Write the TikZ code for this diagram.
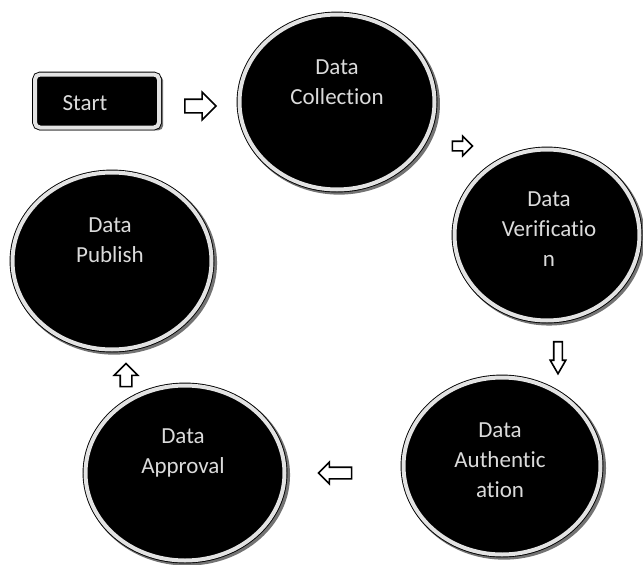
\documentclass[tikz,border=0pt]{standalone}
\usepackage{fontspec}
\setmainfont[Ligatures={NoCommon,NoContextual},Contextuals=NoAlternate]{Carlito}
\usetikzlibrary{shapes.geometric,shapes.arrows,shadows}

\tikzset{
  ring/.style={fill=black, draw=black, double=gray!22, double distance=4pt, line width=0.9pt,
    drop shadow={shadow xshift=2pt, shadow yshift=-2pt, shadow scale=1.035, opacity=0.55, fill=black}},
  bubble/.style={ring, ellipse, inner sep=0pt},
  startbox/.style={ring, rectangle, rounded corners=5pt, inner sep=0pt},
  bubtext/.style={text=gray!28, align=center, font=\fontsize{23}{30}\selectfont},
  blockarr/.style={single arrow, draw=black, fill=white, line width=1.6pt, inner sep=#1}
}

\begin{document}
\begin{tikzpicture}[x=1pt,y=-1pt]
\useasboundingbox[fill=white] (0,0) rectangle (643,565);

% the six steps
\node[startbox, minimum width=124pt, minimum height=53pt] (start) at (97,101) {};
\node[bubtext] (start-t) at (85,103) {Start};

\node[bubble, minimum width=195pt, minimum height=175pt] (coll) at (337,102) {};
\node[bubtext] (coll-t) at (337,82) {Data\\Collection};

\node[bubble, minimum width=185pt, minimum height=171pt] (verif) at (547,235) {};
\node[bubtext] (verif-t) at (549,229) {Data\\Verificatio\\n};

\node[bubble, minimum width=197pt, minimum height=177pt] (auth) at (502,466) {};
\node[bubtext] (auth-t) at (500,460) {Data\\Authentic\\ation};

\node[bubble, minimum width=199pt, minimum height=175pt] (appr) at (185,473) {};
\node[bubtext] (appr-t) at (183,453) {Data\\Approval};

\node[bubble, minimum width=199pt, minimum height=177pt] (publ) at (112,261) {};
\node[bubtext] (publ-t) at (110,240) {Data\\Publish};

% hollow arrows between the steps
\node[blockarr=6pt, single arrow head extend=7pt, minimum height=31pt] (a1) at (197,106) {};
\node[blockarr=4pt, single arrow head extend=5pt, minimum height=20pt] (a2) at (460,146) {};
\node[blockarr=3.5pt, single arrow head extend=3.5pt, minimum height=32pt, single arrow tip angle=60, shape border rotate=270] (a3) at (558,354) {};
\node[blockarr=5pt, single arrow head extend=5pt, minimum height=33pt, shape border rotate=180] (a4) at (338,473) {};
\node[blockarr=5pt, single arrow head extend=6pt, minimum height=23pt, shape border rotate=90] (a5) at (126,378) {};
\end{tikzpicture}
\end{document}
